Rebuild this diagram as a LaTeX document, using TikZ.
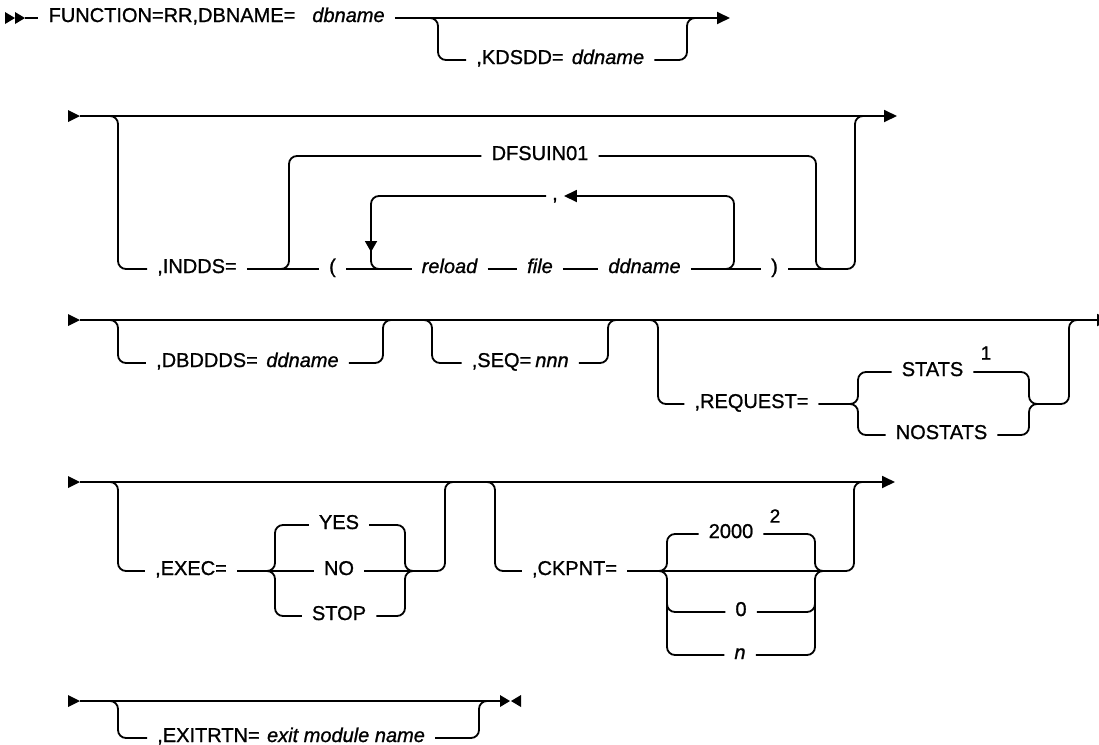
\documentclass[tikz,border=0pt]{standalone}
\usepackage{fontspec}
\setmainfont{Liberation Sans}[FakeBold=1.0]
\usetikzlibrary{arrows.meta}

\tikzset{
    rail/.style={line width=1.8pt, rounded corners=8pt},
    railend/.style={-{Triangle[length=13pt,width=12pt]}},
    kw/.style={font=\fontsize{20}{24}\selectfont, inner xsep=10pt, inner ysep=0pt,
               text height=10pt, text depth=2pt},
    var/.style={kw, font=\fontsize{20}{24}\selectfont\itshape},
    note/.style={font=\fontsize{19}{22}\selectfont, inner sep=0pt}
}

\begin{document}
\begin{tikzpicture}[x=1pt, y=-1pt]
    \useasboundingbox (0,0) rectangle (1099,744);

    % row starts
    \fill (5,12) -- ++(10,6) -- ++(-10,6) -- cycle;
    \fill (15,12) -- ++(10,6) -- ++(-10,6) -- cycle;
    \foreach \y in {116,320,482,701}{
        \fill (68,\y-6) -- ++(12,6) -- ++(-12,6) -- cycle;
    }

    % row 1: FUNCTION, KDSDD
    \node[kw]  (fn)   at (172,18)  {FUNCTION=RR,DBNAME=};
    \node[var] (dbn)  at (348.5,18) {dbname};
    \node[kw]  (kds)  at (520,60)  {,KDSDD=};
    \node[var] (kdsv) at (608,60)  {ddname};
    \draw[rail] (25,18) -- (fn.west);
    \draw[rail, railend] (dbn.east) -- (730,18);
    \draw[rail] (428,18) -| (438,60) -- (kds.west);
    \draw[rail] (kdsv.east) -| (687,18) -- (697,18);

    % row 2: INDDS with its repeat loop
    \draw[rail, railend] (80,116) -- (897,116);
    \node[kw]  (ind) at (197,269)   {,INDDS=};
    \node[kw]  (lp)  at (332.5,269) {(};
    \node[kw]  (dfs) at (540,156)   {DFSUIN01};
    \node[var] (rld) at (449.5,269) {reload};
    \node[var] (fil) at (540,269)   {file};
    \node[var] (ddn) at (644.5,269) {ddname};
    \node[kw]  (rp)  at (774.5,269) {)};
    \node[kw, inner xsep=6pt] (sep) at (555,196) {,};
    \draw[rail] (108,116) -| (118,269) -- (ind.west);
    \draw[rail] (ind.east) -- (lp.west);
    \draw[rail] (279,269) -| (289,156) -- (dfs.west);
    \draw[rail] (dfs.east) -| (816,269) -- (826,269);
    \draw[rail] (lp.east) -- (rld.west);
    \draw[rail] (rld.east) -- (fil.west);
    \draw[rail] (fil.east) -- (ddn.west);
    \draw[rail] (ddn.east) -- (rp.west);
    \draw[rail] (rp.east) -| (855,116) -- (865,116);
    \draw[rail, railend] (719,269) -| (734,196) -- (sep.east);
    \draw[rail, -{Triangle[length=11pt,width=12pt]}] (sep.west) -| (371,252);
    \draw[rail] (371,244) |- (387,269);

    % row 3: DBDDDS, SEQ, REQUEST
    \draw[rail, railend] (80,320) -- (1110,320);
    \node[kw]  (dbd)  at (207,363)   {,DBDDDS=};
    \node[var] (dbdv) at (302.5,363) {ddname};
    \draw[rail] (108,320) -| (118,363) -- (dbd.west);
    \draw[rail] (dbdv.east) -| (383,320) -- (393,320);
    \node[kw]  (seq)  at (501.5,363) {,SEQ=};
    \node[var] (seqv) at (552,363)   {nnn};
    \draw[rail] (422,320) -| (432,363) -- (seq.west);
    \draw[rail] (seqv.east) -| (608,320) -- (618,320);
    \node[kw]   (req) at (751.5,404) {,REQUEST=};
    \node[kw]   (sts) at (932.5,372) {STATS};
    \node[note] (n1)  at (986,353)   {1};
    \node[kw]   (nst) at (941.5,435) {NOSTATS};
    \draw[rail] (648,320) -| (658,404) -- (req.west);
    \draw[rail] (req.east) -| (858,372) -- (sts.west);
    \draw[rail] (req.east) -| (858,435) -- (nst.west);
    \draw[rail] (sts.east) -| (1029,404) -| (1069,320) -- (1079,320);
    \draw[rail] (nst.east) -| (1029,404) -- (1040,404);

    % row 4: EXEC, CKPNT
    \draw[rail, railend] (80,482) -- (895,482);
    \node[kw] (exe) at (191,571) {,EXEC=};
    \node[kw] (yes) at (339,525) {YES};
    \node[kw] (no)  at (339,571) {NO};
    \node[kw] (stp) at (339,616) {STOP};
    \draw[rail] (108,482) -| (118,571) -- (exe.west);
    \draw[rail] (exe.east) -- (no.west);
    \draw[rail] (exe.east) -| (275,525) -- (yes.west);
    \draw[rail] (exe.east) -| (275,616) -- (stp.west);
    \draw[rail] (yes.east) -| (405,571) -| (445,482) -- (455,482);
    \draw[rail] (no.east) -- (415,571);
    \draw[rail] (stp.east) -| (405,571) -- (415,571);
    \node[kw]   (ckp) at (574.5,571) {,CKPNT=};
    \node[kw]   (c2k) at (731,534)   {2000};
    \node[note] (n2)  at (775,516)   {2};
    \node[kw]   (c0)  at (741,612)   {0};
    \node[var]  (cn)  at (740,655)   {n};
    \draw[rail] (485,482) -| (495,571) -- (ckp.west);
    \draw[rail] (ckp.east) -| (854,482) -- (864,482);
    \draw[rail] (ckp.east) -| (667,534) -- (c2k.west);
    \draw[rail] (ckp.east) -| (667,655) -- (cn.west);
    \draw[rail] (667,598) |- (c0.west);
    \draw[rail] (c2k.east) -| (815,571) -- (825,571);
    \draw[rail] (cn.east) -| (815,571) -- (825,571);
    \draw[rail] (c0.east) -| (815,598);

    % row 5: EXITRTN and the end mark
    \draw[rail] (80,701) -- (501,701);
    \fill (500,695) -- ++(10,6) -- ++(-10,6) -- cycle;
    \fill (521,695) -- ++(-10,6) -- ++(10,6) -- cycle;
    \node[kw]  (ext)  at (208.5,738) {,EXITRTN=};
    \node[var] (extv) at (346,738)   {exit module name};
    \draw[rail] (108,701) -| (118,738) -- (ext.west);
    \draw[rail] (extv.east) -| (479,701) -- (489,701);
\end{tikzpicture}
\end{document}
